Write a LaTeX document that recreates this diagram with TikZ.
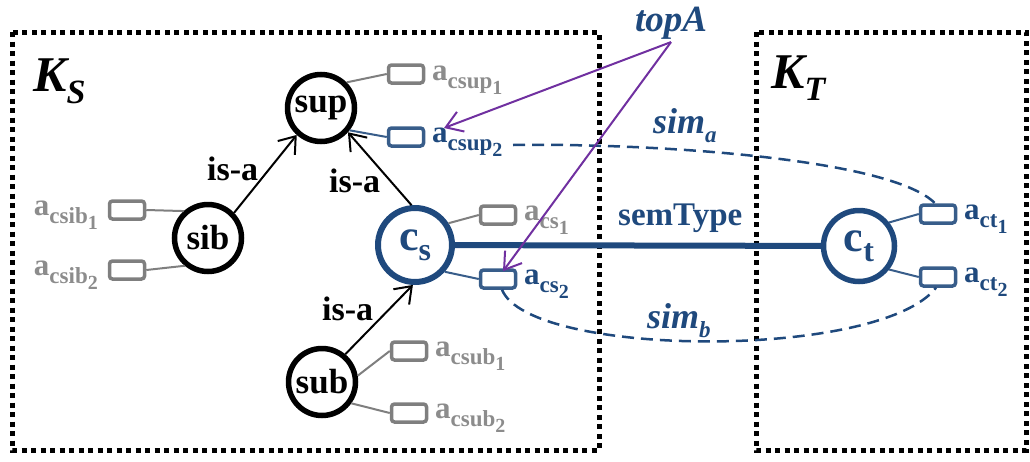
\documentclass[tikz,border=0pt]{standalone}
\usepackage{fontspec}
\setmainfont{Liberation Serif}
\usetikzlibrary{arrows.meta}
\definecolor{dblue}{HTML}{1F497D}
\definecolor{bblue}{HTML}{385D8A}
\definecolor{agray}{HTML}{7F7F7F}
\definecolor{tgray}{HTML}{8C8C8C}
\definecolor{purp}{HTML}{7030A0}
\newcommand{\attrtext}[2]{{\fontsize{31}{31}\selectfont a}\raisebox{-8pt}{\fontsize{23}{23}\selectfont #1\raisebox{-6pt}{\fontsize{20}{20}\selectfont #2}}}
\begin{document}
\begin{tikzpicture}[x=1pt,y=-1pt,font=\bfseries,
  frame/.style={line width=5pt,dash pattern=on 5pt off 4.5pt},
  concept/.style={circle,draw=black,line width=5.5pt,minimum size=67pt,inner sep=0pt,font=\bfseries\fontsize{35}{35}\selectfont},
  bconcept/.style={circle,draw=dblue,text=dblue,line width=6pt,inner sep=0pt,font=\bfseries\fontsize{44}{44}\selectfont},
  gbox/.style={rectangle,rounded corners=3pt,draw=agray,line width=3.5pt,minimum width=35pt,minimum height=18pt,inner sep=0pt},
  bbox/.style={gbox,draw=bblue},
  glbl/.style={inner sep=0pt,text=tgray,font=\bfseries},
  blbl/.style={inner sep=0pt,text=dblue,font=\bfseries},
  gline/.style={draw=agray,line width=2pt},
  bline/.style={draw=bblue,line width=2pt},
  isa/.style={draw=black,line width=2pt,-{Straight Barb[length=15pt,width=22pt,line width=2pt]}},
  isalbl/.style={inner sep=0pt,anchor=base west,font=\bfseries\fontsize{34}{34}\selectfont},
  parrow/.style={draw=purp,line width=2pt,-{Straight Barb[length=16pt,width=21pt,line width=2pt]}},
  simline/.style={draw=dblue,line width=2.5pt,dash pattern=on 12pt off 7pt},
  semline/.style={draw=dblue,line width=6pt}]
\useasboundingbox (0,0) rectangle (1030,461);
% frames
\draw[frame] (12,32) rectangle (599,450);
\draw[frame] (756,32) rectangle (1026,450);
\node[inner sep=0pt,anchor=base west] (KS) at (33,91) {\fontsize{50}{50}\selectfont\itshape K\raisebox{-12pt}{\fontsize{34}{34}\selectfont S}};
\node[inner sep=0pt,anchor=base west] (KT) at (771,88) {\fontsize{50}{50}\selectfont\itshape K\raisebox{-12pt}{\fontsize{34}{34}\selectfont T}};
% concepts
\node[concept] (sup) at (321,108) {sup};
\node[concept] (sib) at (208,238) {sib};
\node[concept] (sub) at (322,382) {sub};
\node[bconcept,minimum size=74pt] (cs) at (415,245) {c\raisebox{-10pt}{\fontsize{32}{32}\selectfont s}};
\node[bconcept,minimum size=71pt,line width=5.5pt] (ct) at (859,246) {c\raisebox{-10pt}{\fontsize{32}{32}\selectfont t}};
% attribute boxes
\node[gbox] (acsup1) at (406,74) {};
\node[bbox] (acsup2) at (406,137) {};
\node[gbox] (acsib1) at (127,210) {};
\node[gbox] (acsib2) at (127,270) {};
\node[gbox] (acs1) at (498,215) {};
\node[bbox] (acs2) at (498,279) {};
\node[gbox] (acsub1) at (409,351) {};
\node[gbox] (acsub2) at (409,413) {};
\node[bbox] (act1) at (938,214) {};
\node[bbox] (act2) at (938,277) {};
% attribute labels
\node[glbl,anchor=base west] (lsup1) at (432,80) {\attrtext{csup}{1}};
\node[blbl,anchor=base west] (lsup2) at (432,142) {\attrtext{csup}{2}};
\node[glbl,anchor=base east] (lsib1) at (98,215) {\attrtext{csib}{1}};
\node[glbl,anchor=base east] (lsib2) at (98,275) {\attrtext{csib}{2}};
\node[glbl,anchor=base west] (lcs1) at (524,220) {\attrtext{cs}{1}};
\node[blbl,anchor=base west] (lcs2) at (524,284) {\attrtext{cs}{2}};
\node[glbl,anchor=base west] (lsub1) at (435,356) {\attrtext{csub}{1}};
\node[glbl,anchor=base west] (lsub2) at (435,418) {\attrtext{csub}{2}};
\node[blbl,anchor=base west] (lct1) at (964,219) {\attrtext{ct}{1}};
\node[blbl,anchor=base west] (lct2) at (964,282) {\attrtext{ct}{2}};
% attribute connectors
\draw[gline] (sup.45) -- (acsup1.west);
\draw[bline] (sup.-38) -- (acsup2.west);
\draw[gline] (sib.132) -- (acsib1.east);
\draw[gline] (sib.-130) -- (acsib2.east);
\draw[gline] (cs.33) -- (acs1.west);
\draw[bline] (cs.-42) -- (acs2.west);
\draw[gline] (sub.10) -- (acsub1.west);
\draw[gline] (sub.-36) -- (acsub2.west);
\draw[bline] (ct.38) -- (act1.west);
\draw[bline] (ct.-38) -- (act2.west);
% is-a
\draw[isa] (sib.44) -- (sup.-132);
\draw[isa] (cs.95) -- (sup.-42);
\draw[isa] (sub.50) -- (cs.-93);
\node[isalbl] (isa1) at (207,180) {is-a};
\node[isalbl] (isa2) at (329,192) {is-a};
\node[isalbl] (isa3) at (322,320) {is-a};
% semType
\draw[semline] (cs) -- (ct);
\node[inner sep=0pt,anchor=base west,text=dblue,font=\bfseries\fontsize{33}{33}\selectfont] (sem) at (618,225) {semType};
% sim curves
\coordinate (simaStart) at (513,145);
\draw[simline] (simaStart) .. controls (650,143) and (890,158) .. ([xshift=-3pt]act1.north);
\draw[simline] ([xshift=4pt]acs2.south) .. controls (530,358) and (880,360) .. ([xshift=-2pt]act2.south);
\node[inner sep=0pt,anchor=base west,text=dblue,font=\bfseries\itshape\fontsize{36}{36}\selectfont] (sima) at (653,133) {sim\raisebox{-9pt}{\fontsize{23}{23}\selectfont a}};
\node[inner sep=0pt,anchor=base west,text=dblue,font=\bfseries\itshape\fontsize{36}{36}\selectfont] (simb) at (647,328) {sim\raisebox{-9pt}{\fontsize{23}{23}\selectfont b}};
% topA
\node[inner sep=0pt,anchor=base,text=dblue,font=\bfseries\itshape\fontsize{37}{37}\selectfont] (topA) at (671,31) {topA};
\draw[parrow] ([yshift=-3pt]topA.south) -- ([xshift=12pt,yshift=14pt]lsup2.base west);
\draw[parrow] ([yshift=-3pt]topA.south) -- ([xshift=5pt,yshift=-3pt]acs2.north);
\end{tikzpicture}
\end{document}
